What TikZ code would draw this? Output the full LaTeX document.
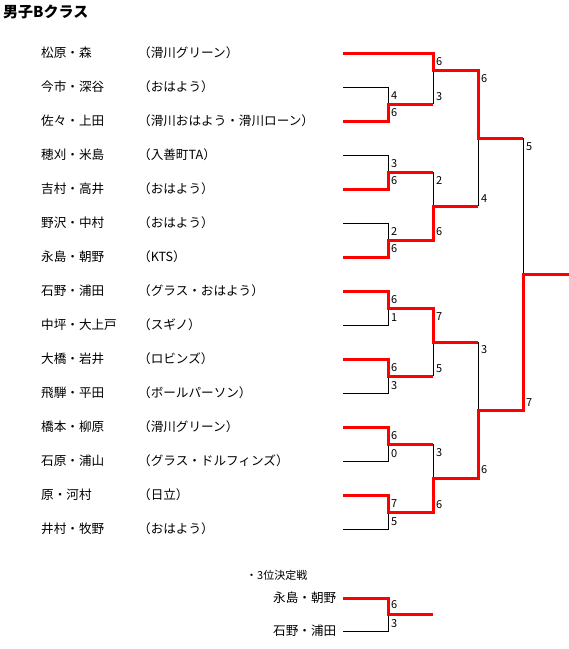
\documentclass[tikz,border=0pt]{standalone}
\usepackage{fontspec}
\setmainfont{Noto Sans CJK JP}
\newfontfamily\jp{Noto Sans CJK JP}
\tikzset{
  win/.style={draw=red, line width=3pt, line join=miter},
  lose/.style={draw=black, line width=1pt},
  score/.style={anchor=west, inner sep=0pt, font=\jp\fontsize{11}{12}\selectfont},
  pname/.style={anchor=west, inner sep=0pt, font=\jp\fontsize{12.6}{13}\selectfont},
}
\begin{document}
\begin{tikzpicture}[x=1pt, y=-1pt]
\useasboundingbox (0,0) rectangle (569,649);
% title
\node[anchor=west, inner sep=0pt, font=\jp\bfseries\fontsize{15}{16}\selectfont] (title) at (3,12) {男子Bクラス};
% player names and teams
\foreach \i/\n/\t in {1/松原・森/（滑川グリーン）,
  2/今市・深谷/（おはよう）,
  3/佐々・上田/（滑川おはよう・滑川ローン）,
  4/穂刈・米島/（入善町TA）,
  5/吉村・高井/（おはよう）,
  6/野沢・中村/（おはよう）,
  7/永島・朝野/（KTS）,
  8/石野・浦田/（グラス・おはよう）,
  9/中坪・大上戸/（スギノ）,
  10/大橋・岩井/（ロビンズ）,
  11/飛騨・平田/（ボールパーソン）,
  12/橋本・柳原/（滑川グリーン）,
  13/石原・浦山/（グラス・ドルフィンズ）,
  14/原・河村/（日立）,
  15/井村・牧野/（おはよう）}{
  \pgfmathsetmacro\yy{53+34*(\i-1)}
  \node[pname] (n\i) at (41,\yy) {\n};
  \node[pname] (t\i) at (138,\yy) {\t};
  \coordinate (p\i) at (343,\yy);
}
% losing lines (black)
\draw[lose] (p2) -- (388,87) -- (388,104);
\draw[lose] (433,70) -- (433,104);
\draw[lose] (p4) -- (388,155) -- (388,172);
\draw[lose] (p6) -- (388,223) -- (388,240);
\draw[lose] (433,172) -- (433,206);
\draw[lose] (478,138) -- (478,206);
\draw[lose] (523,138) -- (523,274);
\draw[lose] (p9) -- (388,325) -- (388,308);
\draw[lose] (p11) -- (388,393) -- (388,376);
\draw[lose] (433,342) -- (433,376);
\draw[lose] (p13) -- (388,461) -- (388,444);
\draw[lose] (433,444) -- (433,478);
\draw[lose] (p15) -- (388,529) -- (388,512);
\draw[lose] (478,342) -- (478,410);
% winning lines (red)
\draw[win] (p1) -- (433,53) -- (433,70) -- (478,70) -- (478,138) -- (523,138);
\draw[win] (p3) -- (388,121) -- (388,104) -- (433,104);
\draw[win] (p5) -- (388,189) -- (388,172) -- (433,172);
\draw[win] (p7) -- (388,257) -- (388,240) -- (433,240) -- (433,206) -- (478,206);
\draw[win] (p8) -- (388,291) -- (388,308) -- (433,308) -- (433,342) -- (478,342);
\draw[win] (p10) -- (388,359) -- (388,376) -- (433,376);
\draw[win] (p12) -- (388,427) -- (388,444) -- (433,444);
\draw[win] (p14) -- (388,495) -- (388,512) -- (433,512) -- (433,478) -- (478,478) -- (478,410) -- (523,410) -- (523,274) -- (569,274);
% scores round 1
\node[score] (s1a) at (391,96) {4};  \node[score] (s1b) at (391,113) {6};
\node[score] (s2a) at (391,164) {3}; \node[score] (s2b) at (391,181) {6};
\node[score] (s3a) at (391,232) {2}; \node[score] (s3b) at (391,249) {6};
\node[score] (s4a) at (391,300) {6}; \node[score] (s4b) at (391,318) {1};
\node[score] (s5a) at (391,368) {6}; \node[score] (s5b) at (391,386) {3};
\node[score] (s6a) at (391,436) {6}; \node[score] (s6b) at (391,454) {0};
\node[score] (s7a) at (391,504) {7}; \node[score] (s7b) at (391,522) {5};
% round 2
\node[score] (r2a) at (436,62) {6};  \node[score] (r2b) at (436,97) {3};
\node[score] (r2c) at (436,181) {2}; \node[score] (r2d) at (436,232) {6};
\node[score] (r2e) at (436,317) {7}; \node[score] (r2f) at (436,369) {5};
\node[score] (r2g) at (436,453) {3}; \node[score] (r2h) at (436,505) {6};
% round 3
\node[score] (r3a) at (481,79) {6};  \node[score] (r3b) at (481,199) {4};
\node[score] (r3c) at (481,350) {3}; \node[score] (r3d) at (481,470) {6};
% final
\node[score] (r4a) at (526,147) {5}; \node[score] (r4b) at (526,403) {7};
% third place match
\node[anchor=west, inner sep=0pt, font=\jp\fontsize{11}{12}\selectfont] (third) at (246,575) {・3位決定戦};
\node[pname] (q1) at (273,598) {永島・朝野};
\node[pname] (q2) at (273,631) {石野・浦田};
\coordinate (q1e) at (343,598);
\coordinate (q2e) at (343,631);
\draw[lose] (q2e) -- (388,631) -- (388,614);
\draw[win] (q1e) -- (388,598) -- (388,614) -- (433,614);
\node[score] (qa) at (391,605) {6};
\node[score] (qb) at (391,624) {3};
\end{tikzpicture}
\end{document}
